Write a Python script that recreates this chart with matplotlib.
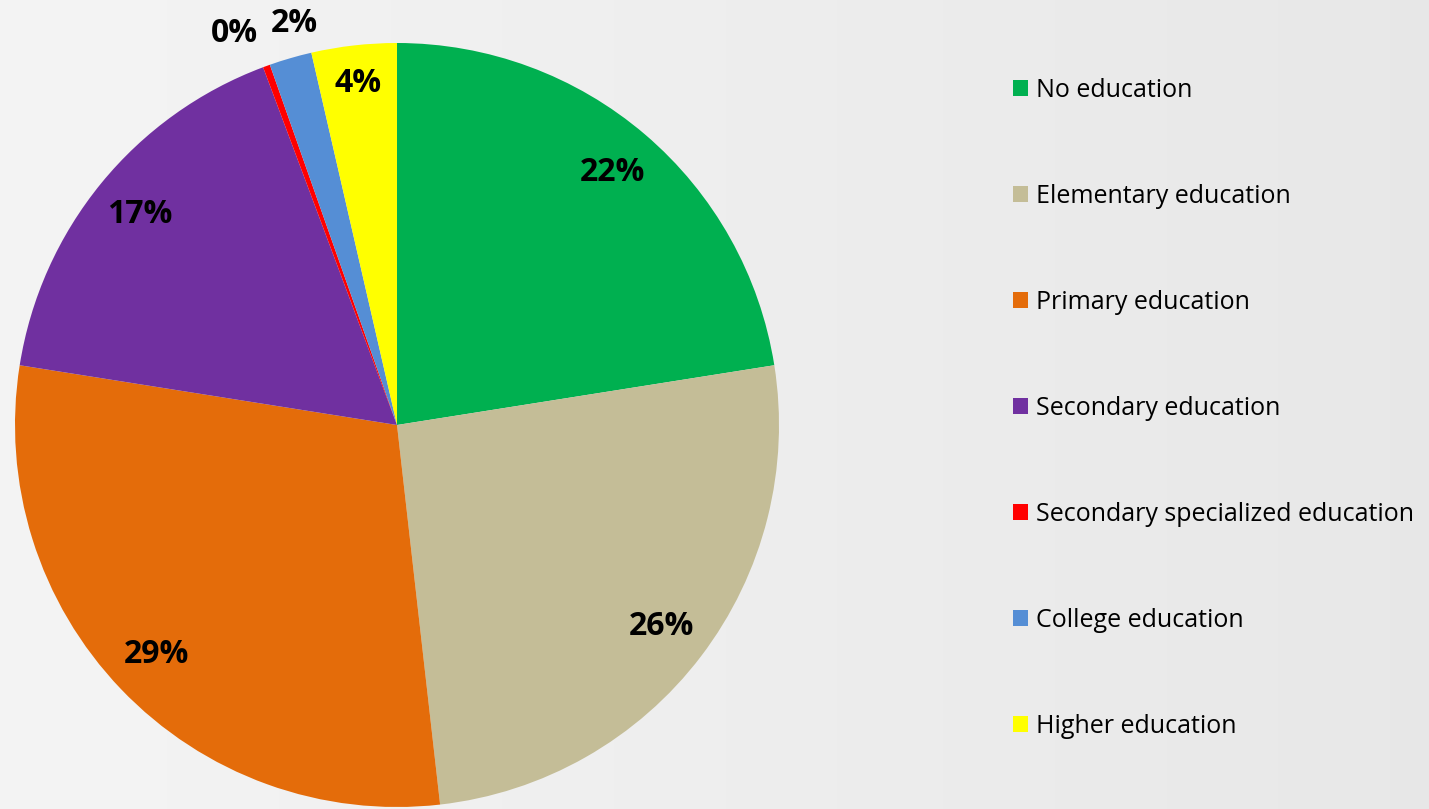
import numpy as np
import matplotlib.pyplot as plt
from matplotlib.patches import Patch

categories = ["No education", "Elementary education", "Primary education",
              "Secondary education", "Secondary specialized education",
              "College education", "Higher education"]
shares = [22.5, 25.7, 29.3, 16.8, 0.3, 1.8, 3.6]
pct_labels = ["22%", "26%", "29%", "17%", "0%", "2%", "4%"]
colors = ["#00B050", "#C4BD97", "#E46C0A", "#7030A0", "#FF0000", "#558ED5", "#FFFF00"]
# label placement: fraction of radius and angular nudge (deg) per slice
label_r = [0.87, 0.87, 0.87, 0.87, 1.11, 1.085, 0.90]
label_nudge = [0, 0, 0, 0, 2.6, -1.8, 0]

W, H = 1429, 809
fig = plt.figure(figsize=(W / 100, H / 100), dpi=100)

# light grey backdrop, slightly darker to the right
bg = fig.add_axes([0, 0, 1, 1], zorder=-10)
grad = np.linspace(0.955, 0.905, 256).reshape(1, -1)
bg.imshow(grad, cmap="gray", vmin=0, vmax=1, aspect="auto", extent=[0, 1, 0, 1])
bg.axis("off")

cx, cy, R = 397, 425, 382
ax = fig.add_axes([(cx - R) / W, (H - cy - R) / H, 2 * R / W, 2 * R / H])
wedges, _ = ax.pie(shares, colors=colors, startangle=90, counterclock=False,
                   radius=1, wedgeprops=dict(linewidth=0))
ax.set_xlim(-1, 1)
ax.set_ylim(-1, 1)
ax.set_aspect("equal")
ax.axis("off")

font = "Open Sans"
for w, lab, r, dn in zip(wedges, pct_labels, label_r, label_nudge):
    ang = np.deg2rad((w.theta1 + w.theta2) / 2 + dn)
    ax.text(r * np.cos(ang), r * np.sin(ang), lab, ha="center", va="center",
            fontsize=23, fontweight="bold", family=font, color="black", clip_on=False)

handles = [Patch(facecolor=c, edgecolor="none") for c in colors]
fig.legend(handles, categories, loc="upper left", bbox_to_anchor=(1003 / W, 1 - 68 / H),
           frameon=False, handlelength=0.6, handleheight=0.6,
           handletextpad=0.32, labelspacing=3.24, borderaxespad=0,
           prop=dict(family=font, size=18))

fig.savefig("out.png", dpi=100)
